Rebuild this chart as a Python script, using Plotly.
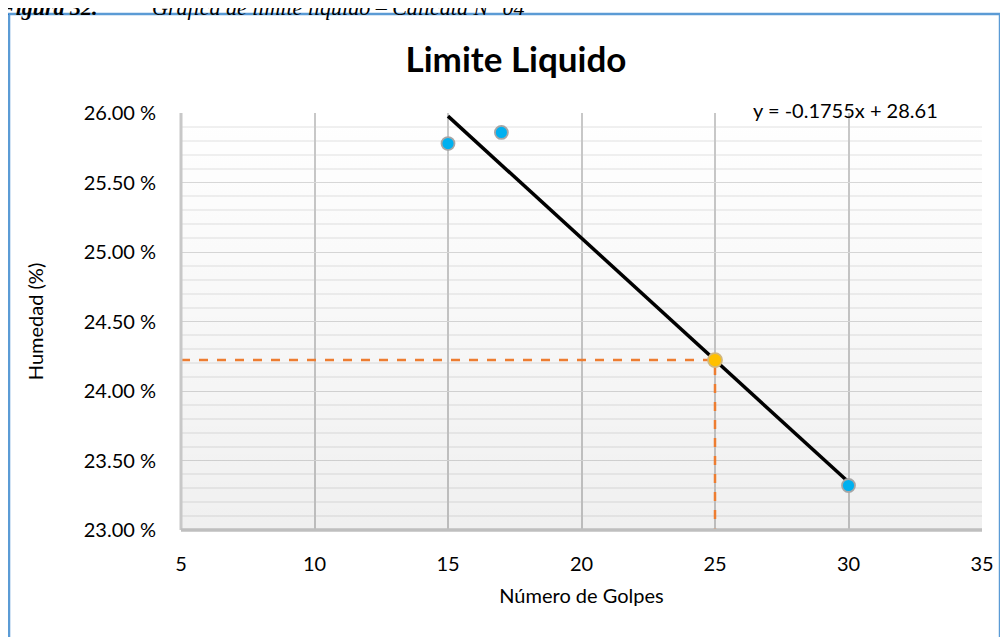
import numpy as np
import plotly.graph_objects as go

# Ensayo de límite líquido
golpes = [15, 17, 30]
humedad = [25.78, 25.86, 23.32]

# Ajuste lineal mostrado en la gráfica
pendiente = -0.1755
intercepto = 28.61
golpes_ll = 25
limite_liquido = pendiente * golpes_ll + intercepto

x_min, x_max = 5, 35
y_min, y_max = 23.0, 26.0

fig = go.Figure()

# fondo del área de trazado con degradado (transparente para ver la rejilla)
fig.add_trace(go.Scatter(
    x=[x_min, x_max, x_max, x_min], y=[y_min, y_min, y_max, y_max],
    fill="toself", mode="none", hoverinfo="skip", showlegend=False,
    fillgradient=dict(type="vertical",
                      colorscale=[[0, "rgba(0,0,0,0.06)"], [1, "rgba(0,0,0,0)"]]),
))

# líneas guía naranjas hasta 25 golpes
fig.add_trace(go.Scatter(
    x=[x_min, golpes_ll, golpes_ll], y=[limite_liquido, limite_liquido, y_min],
    mode="lines", line=dict(color="#ED7D31", width=2.5, dash="dash"),
    hoverinfo="skip", showlegend=False,
))

# línea de tendencia
x_fit = np.array([min(golpes), max(golpes)])
fig.add_trace(go.Scatter(
    x=x_fit, y=pendiente * x_fit + intercepto,
    mode="lines", line=dict(color="black", width=3.5), showlegend=False,
))

fig.add_trace(go.Scatter(
    x=golpes, y=humedad, mode="markers",
    marker=dict(size=13, color="#00B0F0", line=dict(color="#a6a6a6", width=1.8)),
    showlegend=False,
))

fig.add_trace(go.Scatter(
    x=[golpes_ll], y=[limite_liquido], mode="markers",
    marker=dict(size=14, color="#FFC000", line=dict(color="#d2b77c", width=1.8)),
    showlegend=False,
))

font_main = "Lato, 'Open Sans', sans-serif"

fig.update_layout(
    width=1000, height=629,
    margin=dict(l=173, r=26, t=105, b=107),
    paper_bgcolor="white", plot_bgcolor="white",
    font=dict(family=font_main, size=20, color="#000000"),
    title=dict(text="<b>Limite Liquido</b>", x=0.508, xanchor="center",
               y=0.917, yanchor="middle", font=dict(size=35, color="#000000")),
    xaxis=dict(
        range=[x_min, x_max], dtick=5, tick0=5,
        showgrid=True, gridcolor="#c8c8c8", gridwidth=2,
        zeroline=False, showline=False, ticks="", ticklabelstandoff=20,
        title=dict(text="Número de Golpes", font=dict(size=20), standoff=14),
    ),
    yaxis=dict(
        range=[y_min, y_max], dtick=0.5, tick0=23,
        tickformat=".2f", ticksuffix=" %",
        showgrid=True, gridcolor="#d9d9d9", gridwidth=1.2,
        minor=dict(dtick=0.1, showgrid=True, gridcolor="#f0f0f0", gridwidth=1.5),
        zeroline=False, showline=False, ticks="", ticklabelstandoff=24,
        title=dict(text="Humedad (%)", font=dict(size=20), standoff=34),
    ),
    shapes=[
        # borde izquierdo y eje inferior del área de trazado
        dict(type="line", xref="paper", yref="paper", x0=0, x1=0, y0=0, y1=1,
             line=dict(color="#c8c8c8", width=3)),
        dict(type="line", xref="paper", yref="paper", x0=0, x1=1, y0=0, y1=0,
             line=dict(color="#bfbfbf", width=3.5)),
        # marco del gráfico
        dict(type="rect", xref="paper", yref="paper",
             x0=-0.2147, x1=1.0225, y0=-0.32, y1=1.2374,
             line=dict(color="#5B9BD5", width=2.5), fillcolor="rgba(0,0,0,0)",
             layer="below"),
    ],
    annotations=[
        dict(text="y = -0.1755x + 28.61", xref="paper", yref="paper",
             x=0.829, y=1.007, xanchor="center", yanchor="middle",
             showarrow=False, font=dict(size=20)),
        dict(text="<b><i>Figura 32.</i></b>", xref="paper", yref="paper",
             x=-0.2285, y=1.218, xanchor="left", yanchor="bottom",
             showarrow=False, font=dict(family="Liberation Serif", size=22)),
        dict(text="<i>Gráfica de límite líquido – Calicata N° 04</i>",
             xref="paper", yref="paper",
             x=-0.0387, y=1.218, xanchor="left", yanchor="bottom",
             showarrow=False, font=dict(family="Liberation Serif", size=22)),
    ],
)

fig.write_html("out.html")
